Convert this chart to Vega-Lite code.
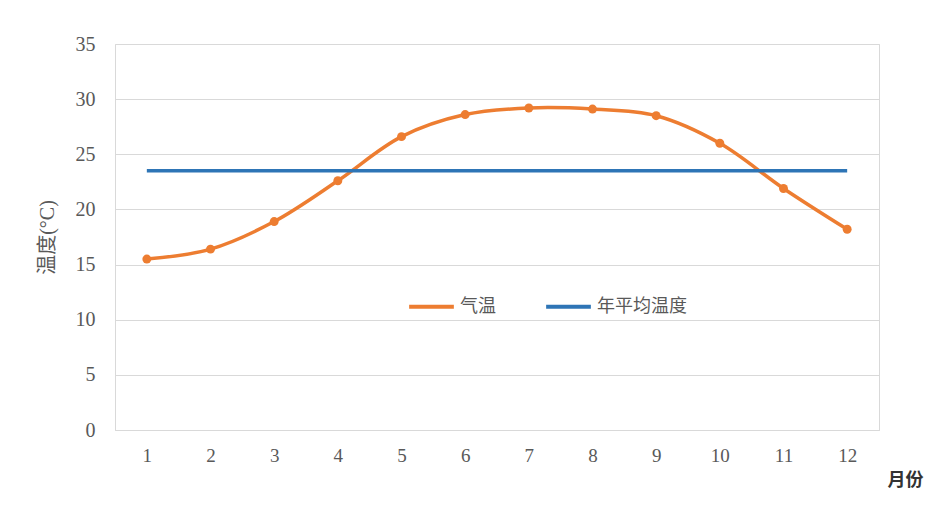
{
  "$schema": "https://vega.github.io/schema/vega-lite/v6.json",
  "autosize": "none",
  "width": 764,
  "height": 386,
  "padding": {"left": 115, "top": 44, "right": 48, "bottom": 94},
  "background": "white",
  "config": {"view": {"stroke": "#d9d9d9", "strokeWidth": 1}},
  "data": {
    "values": [
      {"month": "1", "temp": 15.5, "series": "气温"},
      {"month": "2", "temp": 16.4, "series": "气温"},
      {"month": "3", "temp": 18.9, "series": "气温"},
      {"month": "4", "temp": 22.6, "series": "气温"},
      {"month": "5", "temp": 26.6, "series": "气温"},
      {"month": "6", "temp": 28.6, "series": "气温"},
      {"month": "7", "temp": 29.2, "series": "气温"},
      {"month": "8", "temp": 29.1, "series": "气温"},
      {"month": "9", "temp": 28.5, "series": "气温"},
      {"month": "10", "temp": 26.0, "series": "气温"},
      {"month": "11", "temp": 21.9, "series": "气温"},
      {"month": "12", "temp": 18.2, "series": "气温"},
      {"month": "1", "temp": 23.5, "series": "年平均温度"},
      {"month": "2", "temp": 23.5, "series": "年平均温度"},
      {"month": "3", "temp": 23.5, "series": "年平均温度"},
      {"month": "4", "temp": 23.5, "series": "年平均温度"},
      {"month": "5", "temp": 23.5, "series": "年平均温度"},
      {"month": "6", "temp": 23.5, "series": "年平均温度"},
      {"month": "7", "temp": 23.5, "series": "年平均温度"},
      {"month": "8", "temp": 23.5, "series": "年平均温度"},
      {"month": "9", "temp": 23.5, "series": "年平均温度"},
      {"month": "10", "temp": 23.5, "series": "年平均温度"},
      {"month": "11", "temp": 23.5, "series": "年平均温度"},
      {"month": "12", "temp": 23.5, "series": "年平均温度"}
    ]
  },
  "encoding": {
    "x": {
      "field": "month", "type": "ordinal", "sort": null,
      "scale": {"type": "point", "padding": 0.5},
      "axis": {
        "title": "月份", "labelAngle": 0, "ticks": false, "grid": false,
        "domainColor": "#d9d9d9", "labelFont": "Liberation Serif", "labelFontSize": 19,
        "labelColor": "#595959", "labelPadding": 16,
        "titleFont": "Noto Sans CJK SC", "titleFontSize": 18, "titleFontWeight": "bold",
        "titleColor": "#333333", "titleX": 790, "titleY": 50, "titleAlign": "center", "titleBaseline": "middle"
      }
    },
    "y": {
      "field": "temp", "type": "quantitative",
      "scale": {"domain": [0, 35], "nice": false},
      "axis": {
        "title": "温度(°C)", "values": [0, 5, 10, 15, 20, 25, 30, 35],
        "ticks": false, "domain": false, "gridColor": "#d9d9d9", "gridWidth": 1,
        "labelFont": "Liberation Serif", "labelFontSize": 20, "labelColor": "#595959", "labelPadding": 20,
        "titleFont": "Liberation Serif, Noto Sans CJK SC", "titleFontSize": 20, "titleFontWeight": "normal",
        "titleColor": "#595959", "titleX": -68, "titleY": 193, "titleAlign": "center", "titleBaseline": "middle"
      }
    },
    "color": {
      "field": "series", "type": "nominal",
      "scale": {"domain": ["气温", "年平均温度"], "range": ["#ED7D31", "#2E75B6"]},
      "legend": {
        "title": null, "orient": "none", "direction": "horizontal",
        "legendX": 292, "legendY": 238,
        "symbolType": "stroke", "symbolSize": 2000, "symbolStrokeWidth": 4,
        "labelFont": "Noto Sans CJK SC", "labelFontSize": 18, "labelColor": "#595959",
        "columnPadding": 42, "labelOffset": 4
      }
    }
  },
  "layer": [
    {"mark": {"type": "line", "strokeWidth": 3.5, "interpolate": "catmull-rom"}},
    {
      "transform": [{"filter": "datum.series === '气温'"}],
      "mark": {"type": "point", "filled": true, "size": 80, "opacity": 1}
    }
  ]
}
